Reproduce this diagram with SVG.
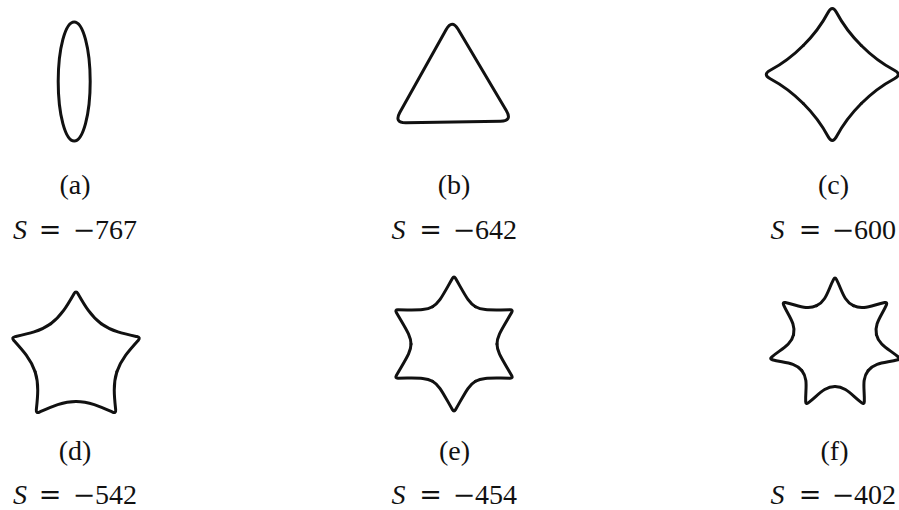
<svg xmlns="http://www.w3.org/2000/svg" width="899" height="510" viewBox="0 0 899 510">
<style>
.curve{fill:none;stroke:#111;stroke-width:3;stroke-linejoin:round;stroke-linecap:round}
.lab{font-family:"Liberation Serif",serif;font-size:28px;text-anchor:middle;fill:#111}
.s{font-family:"Liberation Serif",serif;font-size:28px;font-style:italic}
.op{font-family:"DejaVu Serif",serif;font-size:27px}
.num{font-family:"Liberation Serif",serif;font-size:28px}
.eq{fill:#111}
</style>
<defs>
<path id="armC" class="curve" d="M -29,-29 C -19.1,-38.9 -10.8,-49.69 -4.23,-62.05 Q 0,-70 4.23,-62.05 C 10.8,-49.69 19.1,-38.9 29,-29"/>
<path id="armD" class="curve" d="M -25.27,-34.79 C -14.75,-42.43 -8.5,-53.48 -2,-64.74 Q 0,-68.2 2,-64.74 C 8.5,-53.48 14.75,-42.43 25.27,-34.79"/>
<path id="armE" class="curve" d="M -21.5,-37.24 C -14.57,-41.24 -11.5,-48.38 -1.5,-65.7 Q 0,-68.3 1.5,-65.7 C 11.5,-48.38 14.57,-41.24 21.5,-37.24"/>
<path id="armF" class="curve" d="M -18.44,-38.29 C -8.53,-43.06 -7.05,-53.96 -1.41,-64.65 Q 0,-67.3 1.41,-64.65 C 7.05,-53.96 8.53,-43.06 18.44,-38.29"/>
</defs>
<rect width="899" height="510" fill="#fff"/>

<g id="fig-a">
<ellipse class="curve" cx="74.2" cy="81.5" rx="16" ry="59.5"/>
<text class="lab" x="75" y="194">(a)</text>
<text class="eq" y="239"><tspan class="s" x="13">S</tspan> <tspan class="op" x="38.7">=</tspan> <tspan class="op" x="72.7">−</tspan><tspan class="num" x="95">767</tspan></text>
</g>

<g id="fig-b">
<path class="curve" d="M 446.2,29.5 Q 452,19 458.1,29.3 L 506.4,110.7 Q 512.5,121 500.5,121.2 L 406,122.8 Q 394,123 399.8,112.5 Z"/>
<text class="lab" x="454" y="194">(b)</text>
<text class="eq" y="239"><tspan class="s" x="391.5">S</tspan> <tspan class="op" x="419.2">=</tspan> <tspan class="op" x="452.7">−</tspan><tspan class="num" x="475">642</tspan></text>
</g>

<g id="fig-c">
<g transform="translate(832.3,74.5)">
<use href="#armC"/>
<use href="#armC" transform="rotate(90)"/>
<use href="#armC" transform="rotate(180)"/>
<use href="#armC" transform="rotate(270)"/>
</g>
<text class="lab" x="833.5" y="194">(c)</text>
<text class="eq" y="239"><tspan class="s" x="770.5">S</tspan> <tspan class="op" x="798.7">=</tspan> <tspan class="op" x="831.7">−</tspan><tspan class="num" x="854">600</tspan></text>
</g>

<g id="fig-d">
<g transform="translate(76,358.5)">
<use href="#armD"/>
<use href="#armD" transform="rotate(72)"/>
<use href="#armD" transform="rotate(144)"/>
<use href="#armD" transform="rotate(216)"/>
<use href="#armD" transform="rotate(288)"/>
</g>
<text class="lab" x="75" y="459.5">(d)</text>
<text class="eq" y="503.5"><tspan class="s" x="13">S</tspan> <tspan class="op" x="38.7">=</tspan> <tspan class="op" x="72.7">−</tspan><tspan class="num" x="95">542</tspan></text>
</g>

<g id="fig-e">
<g transform="translate(454,344)">
<use href="#armE"/>
<use href="#armE" transform="rotate(60)"/>
<use href="#armE" transform="rotate(120)"/>
<use href="#armE" transform="rotate(180)"/>
<use href="#armE" transform="rotate(240)"/>
<use href="#armE" transform="rotate(300)"/>
</g>
<text class="lab" x="454.5" y="459.5">(e)</text>
<text class="eq" y="503.5"><tspan class="s" x="391.5">S</tspan> <tspan class="op" x="419.2">=</tspan> <tspan class="op" x="452.7">−</tspan><tspan class="num" x="475">454</tspan></text>
</g>

<g id="fig-f">
<g transform="translate(835,344)">
<use href="#armF"/>
<use href="#armF" transform="rotate(51.43)"/>
<use href="#armF" transform="rotate(102.86)"/>
<use href="#armF" transform="rotate(154.29)"/>
<use href="#armF" transform="rotate(205.71)"/>
<use href="#armF" transform="rotate(257.14)"/>
<use href="#armF" transform="rotate(308.57)"/>
</g>
<text class="lab" x="834.5" y="459.5">(f)</text>
<text class="eq" y="503.5"><tspan class="s" x="770.5">S</tspan> <tspan class="op" x="798.7">=</tspan> <tspan class="op" x="831.7">−</tspan><tspan class="num" x="854">402</tspan></text>
</g>

<g id="connectors"/>
</svg>
